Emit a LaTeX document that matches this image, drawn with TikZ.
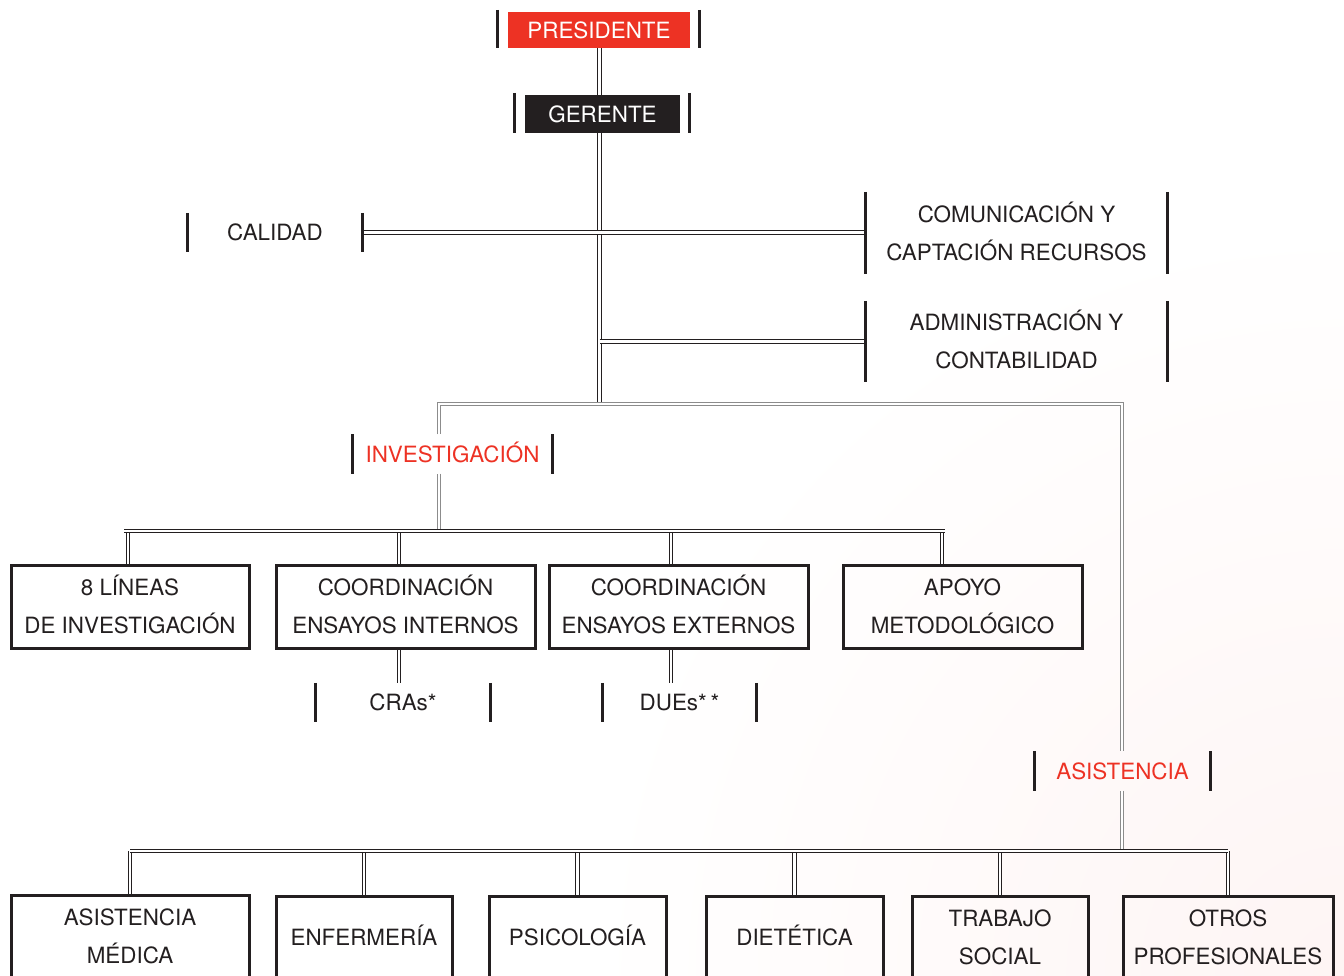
\documentclass[tikz,border=0pt]{standalone}
\usepackage{fontspec}
\setmainfont{TeX Gyre Heros}
\usetikzlibrary{backgrounds}
\definecolor{orgred}{RGB}{237,50,36}
\definecolor{orgblack}{RGB}{35,31,32}
\newcommand\cp[1]{\rule{0pt}{16pt}\smash{#1}}
\tikzset{
  link/.style={draw=orgblack, line width=1pt, double=white, double distance=2.6pt},
  glink/.style={link, draw=black!45},
  bar/.style={line width=3pt, draw=orgblack},
  tag/.style={minimum height=39pt, inner sep=0pt, align=center},
  unit/.style={draw=orgblack, line width=3pt, minimum height=83pt, inner sep=0pt, align=center}
}
\begin{document}
\begin{tikzpicture}[x=1pt, y=-1pt, font=\fontsize{22.4}{38}\selectfont, text=orgblack]
    \useasboundingbox (0,0) rectangle (1344,975);
    \node[fill=orgred, text=white, minimum width=182pt, minimum height=36pt, inner sep=0pt] (pres) at (599,30) {\cp{PRESIDENTE}};
    \node[fill=orgblack, text=white, minimum width=155pt, minimum height=38pt, inner sep=0pt] (ger) at (602.5,114) {\cp{GERENTE}};
    \node[tag, minimum width=174pt] (cal) at (275,232.5) {\cp{CALIDAD}};
    \node[tag, minimum width=301pt, minimum height=82pt] (com) at (1016.5,233) {\cp{COMUNICACIÓN Y}\\\cp{CAPTACIÓN RECURSOS}};
    \node[tag, minimum width=301pt, minimum height=81pt] (adm) at (1016.5,341.5) {\cp{ADMINISTRACIÓN Y}\\\cp{CONTABILIDAD}};
    \node[tag, minimum width=199pt, text=orgred] (inv) at (452.5,454) {\cp{INVESTIGACIÓN}};
    \node[tag, minimum width=175pt, text=orgred] (asi) at (1122.5,771) {\cp{ASISTENCIA}};
    \node[unit, minimum width=238pt] (l1) at (130,606.5) {\cp{8 LÍNEAS}\\\cp{DE INVESTIGACIÓN}};
    \node[unit, minimum width=259pt] (l2) at (405.5,606.5) {\cp{COORDINACIÓN}\\\cp{ENSAYOS INTERNOS}};
    \node[unit, minimum width=259pt] (l3) at (678.5,606.5) {\cp{COORDINACIÓN}\\\cp{ENSAYOS EXTERNOS}};
    \node[unit, minimum width=239pt] (l4) at (962.5,606.5) {\cp{APOYO}\\\cp{METODOLÓGICO}};
    \node[tag, minimum width=174pt] (cra) at (403,702.5) {\cp{CRAs*}};
    \node[tag, minimum width=153pt] (due) at (679.5,702.5) {\cp{DUEs*\,*}};
    \node[unit, minimum width=238pt] (b1) at (130,936.5) {\cp{ASISTENCIA}\\\cp{MÉDICA}};
    \node[unit, minimum width=176pt] (b2) at (364,937.5) {\cp{ENFERMERÍA}};
    \node[unit, minimum width=177pt] (b3) at (577.5,937.5) {\cp{PSICOLOGÍA}};
    \node[unit, minimum width=177pt] (b4) at (794.5,937.5) {\cp{DIETÉTICA}};
    \node[unit, minimum width=176pt] (b5) at (1000,937.5) {\cp{TRABAJO}\\\cp{SOCIAL}};
    \node[unit, minimum width=210pt] (b6) at (1228,937.5) {\cp{OTROS}\\\cp{PROFESIONALES}};
    \foreach \n in {pres,ger}
      \draw[bar] ([xshift=-10pt,yshift=2pt]\n.north west) -- ([xshift=-10pt]\n.south west)
                 ([xshift=9pt,yshift=2pt]\n.north east) -- ([xshift=9pt]\n.south east);
    \foreach \n in {cal,com,adm,inv,asi,cra,due}
      \draw[bar] (\n.north west) -- (\n.south west) (\n.north east) -- (\n.south east);
    \coordinate (trunk) at (599.5,404);
    \coordinate (invtop) at (439,404);
    \coordinate (asitop) at (1122,404);
    \coordinate (ib) at (124,531);
    \coordinate (ie) at (945,531);
    \coordinate (ab) at (130,851);
    \coordinate (ae) at (1228,851);
    \begin{scope}[on background layer]
      \shade[inner color=orgred!5, outer color=white] (1344,975) circle (760);
      \draw[link] (pres.south -| trunk) -- (ger.north -| trunk);
      \draw[link] (ger.south -| trunk) -- (trunk);
      \draw[link] (cal.east) -- (cal.east -| com.west);
      \draw[link] (trunk |- adm.west) -- (adm.west);
      \draw[glink] (invtop |- inv.north) -- (invtop) -- (asitop) -- (asitop |- asi.north);
      \draw[glink] (invtop |- inv.south) -- (invtop |- ib);
      \draw[glink] (asitop |- asi.south) -- (asitop |- ab);
      \foreach \n/\dx in {l1/-2,l2/-6.5,l3/-7.5,l4/-20.5}
        \draw[link] ([xshift=\dx pt]\n.north) -- ([xshift=\dx pt]\n.north |- ib);
      \draw[link] (ib) -- (ie);
      \foreach \n in {b1,b2,b3,b4,b5,b6}
        \draw[link] (\n.north) -- (\n.north |- ab);
      \draw[link] (ab) -- (ae);
      \draw[link] ([xshift=-6.5pt]l2.south) -- ([xshift=-6.5pt]l2.south |- cra.north);
      \draw[link] ([xshift=-7.5pt]l3.south) -- ([xshift=-7.5pt]l3.south |- due.north);
    \end{scope}
\end{tikzpicture}
\end{document}
